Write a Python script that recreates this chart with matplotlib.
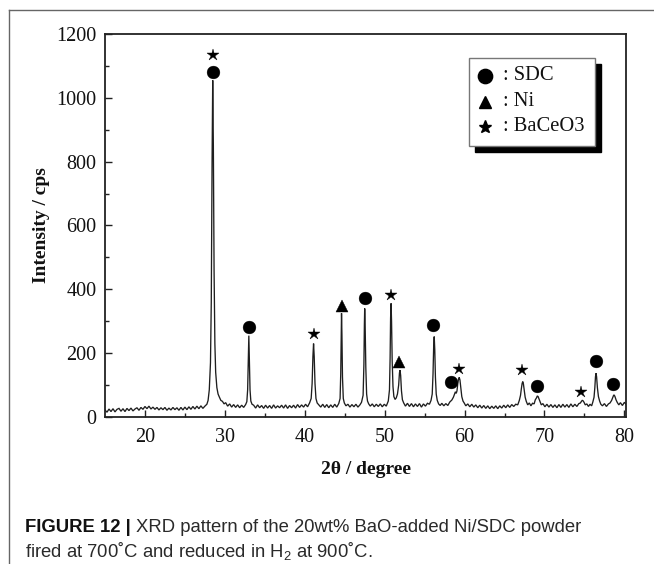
import matplotlib
matplotlib.use("Agg")
import matplotlib.pyplot as plt
from matplotlib.lines import Line2D
from matplotlib.patches import Rectangle

# ---------------- data ----------------
two_theta = [
    15.00, 15.25, 15.50, 15.75, 16.00, 16.25, 16.50, 16.75, 17.00, 17.25, 17.50, 17.75,
    18.00, 18.25, 18.50, 18.75, 19.00, 19.25, 19.50, 19.75, 20.00, 20.25, 20.50, 20.75,
    21.00, 21.25, 21.50, 21.75, 22.00, 22.25, 22.50, 22.75, 23.00, 23.25, 23.50, 23.75,
    24.00, 24.25, 24.50, 24.75, 25.00, 25.25, 25.50, 25.75, 26.00, 26.25, 26.50, 26.75,
    27.00, 27.25, 27.50, 27.75,
    27.90, 28.05, 28.20, 28.30, 28.40, 28.48, 28.56, 28.65, 28.75, 28.85, 29.00, 29.15,
    29.30, 29.50, 29.70, 29.90, 30.10, 30.35, 30.60, 30.85, 31.10, 31.35, 31.60, 31.85,
    32.10, 32.35, 32.60,
    32.75, 32.85, 32.93, 33.00, 33.07, 33.15, 33.25, 33.40,
    33.60, 33.85, 34.10, 34.35, 34.60, 34.85, 35.10, 35.35, 35.60, 35.85, 36.10, 36.35,
    36.60, 36.85, 37.10, 37.35, 37.60, 37.85, 38.10, 38.35, 38.60, 38.85, 39.10, 39.35,
    39.60, 39.85, 40.10, 40.35, 40.60,
    40.80, 40.92, 41.02, 41.10, 41.18, 41.28, 41.40, 41.55, 41.75, 42.00, 42.25, 42.50,
    42.75, 43.00, 43.25, 43.50, 43.75, 44.00, 44.25,
    44.42, 44.50, 44.56, 44.60, 44.65, 44.72, 44.82, 44.95, 45.15, 45.40, 45.65, 45.90,
    46.15, 46.40, 46.65, 46.90, 47.10,
    47.30, 47.40, 47.46, 47.50, 47.56, 47.64, 47.74, 47.85, 48.00, 48.20, 48.45, 48.70,
    48.95, 49.20, 49.45, 49.70, 49.95, 50.20, 50.45,
    50.60, 50.68, 50.74, 50.80, 50.86, 50.94, 51.04, 51.15, 51.30, 51.45, 51.60,
    51.75, 51.85, 51.92, 52.00, 52.10, 52.22, 52.38, 52.60, 52.85, 53.10, 53.35, 53.60,
    53.85, 54.10, 54.35, 54.60, 54.85, 55.10, 55.35, 55.60, 55.80,
    55.95, 56.05, 56.13, 56.20, 56.27, 56.35, 56.45, 56.58, 56.75, 56.95, 57.15, 57.40,
    57.65, 57.90, 58.15, 58.40, 58.60,
    58.75, 58.85, 58.95, 59.05, 59.15, 59.25, 59.33, 59.42, 59.52, 59.65, 59.80, 59.95,
    60.15, 60.40, 60.65, 60.90, 61.15, 61.40, 61.65, 61.90, 62.15, 62.40, 62.65, 62.90,
    63.15, 63.40, 63.65, 63.90, 64.15, 64.40, 64.65, 64.90, 65.15, 65.40, 65.65, 65.90,
    66.15, 66.40, 66.65, 66.85,
    67.00, 67.10, 67.20, 67.28, 67.36, 67.46, 67.58, 67.72, 67.90, 68.10, 68.30, 68.50,
    68.70, 68.85,
    69.00, 69.10, 69.20, 69.32, 69.45, 69.60, 69.80, 70.05, 70.30, 70.55, 70.80, 71.05,
    71.30, 71.55, 71.80, 72.05, 72.30, 72.55, 72.80, 73.05, 73.30, 73.55, 73.80, 74.05,
    74.30, 74.50,
    74.62, 74.72, 74.82, 74.95, 75.10, 75.30, 75.50, 75.70, 75.90, 76.05, 76.20,
    76.30, 76.38, 76.45, 76.52, 76.62, 76.75, 76.90, 77.05, 77.25, 77.50, 77.75, 78.00,
    78.20, 78.40,
    78.55, 78.65, 78.72, 78.82, 78.95, 79.10, 79.30, 79.50, 79.75, 80.00, 80.20,
]
intensity_cps = [
    22, 15, 25, 17, 26, 16, 24, 27, 18, 26, 17, 27,
    20, 28, 19, 25, 29, 21, 30, 24, 33, 26, 34, 25,
    31, 24, 30, 22, 29, 23, 30, 21, 28, 22, 30, 23,
    29, 21, 30, 22, 31, 23, 32, 24, 33, 25, 34, 26,
    35, 27, 34, 40,
    52, 85, 170, 360, 800, 1055, 850, 460, 230, 140, 92, 72,
    63, 52, 49, 41, 45, 34, 41, 31, 39, 30, 38, 29,
    37, 30, 39,
    48, 85, 175, 255, 170, 85, 50, 40,
    37, 28, 38, 29, 36, 27, 37, 28, 36, 27, 38, 28,
    35, 29, 37, 28, 38, 27, 36, 29, 37, 28, 39, 30,
    38, 31, 40, 32, 44,
    58, 105, 190, 230, 190, 105, 58, 44, 38, 31, 40, 30,
    39, 29, 38, 30, 40, 31, 42,
    58, 135, 260, 325, 260, 125, 58, 44, 35, 40, 31, 39,
    32, 40, 31, 38, 46,
    68, 165, 290, 340, 280, 155, 72, 50, 41, 34, 41, 32,
    40, 33, 41, 32, 40, 34, 50,
    85, 185, 310, 356, 300, 175, 95, 64, 55, 60, 72,
    100, 138, 147, 130, 82, 54, 44, 34, 43, 33, 42, 32,
    41, 33, 42, 31, 41, 34, 43, 40, 52,
    72, 135, 220, 252, 210, 125, 72, 52, 41, 36, 43, 35,
    42, 36, 47, 53, 62,
    72, 79, 74, 82, 105, 120, 124, 116, 92, 64, 50, 44,
    35, 41, 32, 40, 31, 38, 29, 37, 28, 36, 27, 35,
    26, 34, 27, 35, 26, 35, 28, 37, 29, 38, 30, 39,
    33, 40, 38, 52,
    68, 88, 105, 111, 104, 84, 62, 49, 38, 44, 35, 43,
    41, 54,
    60, 66, 64, 56, 48, 38, 42, 32, 40, 31, 39, 30,
    38, 29, 39, 30, 40, 31, 39, 30, 41, 32, 40, 33,
    42, 44,
    49, 52, 51, 46, 38, 41, 33, 40, 35, 47, 62,
    92, 126, 137, 126, 92, 64, 50, 40, 35, 42, 33, 41,
    44, 52,
    62, 68, 69, 64, 54, 46, 38, 45, 36, 46, 40,
]

# phase markers placed above the peaks (2theta, cps, phase)
marker_2theta = [28.5, 28.5, 33.0, 41.1, 44.6, 47.5, 50.75, 51.85, 56.1, 58.35, 59.3,
                 67.2, 69.0, 74.6, 76.45, 78.55]
marker_cps = [1082, 1134, 282, 260, 349, 372, 382, 173, 288, 111, 149,
              148, 98, 78, 174, 102]
marker_phase = ["SDC", "BaCeO3", "SDC", "BaCeO3", "Ni", "SDC", "BaCeO3", "Ni", "SDC",
                "SDC", "BaCeO3", "BaCeO3", "SDC", "BaCeO3", "SDC", "SDC"]

phases = ["SDC", "Ni", "BaCeO3"]
phase_symbols = {"SDC": ("o", 9.2), "Ni": ("^", 8.3), "BaCeO3": ("*", 8.6)}

x_ticks = [20, 30, 40, 50, 60, 70, 80]
y_ticks = [0, 200, 400, 600, 800, 1000, 1200]

# ---------------- figure ----------------
W, H = 654, 564
fig = plt.figure(figsize=(W / 100, H / 100), dpi=100)
fig.patch.set_facecolor("white")

def fx(px):
    return px / W

def fy(py):
    return 1 - py / H

ax_l, ax_r, ax_t, ax_b = 105, 626, 34, 417
ax = fig.add_axes([fx(ax_l), fy(ax_b), (ax_r - ax_l) / W, (ax_b - ax_t) / H])

serif = "Liberation Serif"
ax.plot(two_theta, intensity_cps, color="#1e1e1e", lw=0.95, solid_joinstyle="miter")

for xm, ym, ph in zip(marker_2theta, marker_cps, marker_phase):
    m, s = phase_symbols[ph]
    ax.plot([xm], [ym], marker=m, ms=s, color="black", mec="black", mew=0.3,
            linestyle="none", zorder=5)

ax.set_xlim(15, 80.2)
ax.set_ylim(0, 1200)
ax.set_xticks(x_ticks)
ax.set_yticks(y_ticks)
ax.set_xticks([25, 35, 45, 55, 65, 75], minor=True)
ax.set_yticks([100, 300, 500, 700, 900, 1100], minor=True)
ax.tick_params(which="both", direction="in", top=False, right=False, color="#222222")
ax.tick_params(which="major", length=5, width=1.0, labelsize=14.5)
ax.tick_params(which="minor", length=2.6, width=1.0)
ax.tick_params(axis="x", pad=8)
ax.tick_params(axis="y", pad=6)
for lab in ax.get_xticklabels() + ax.get_yticklabels():
    lab.set_fontfamily(serif)
    lab.set_color("#111111")
for sp in ax.spines.values():
    sp.set_linewidth(1.3)
    sp.set_color("#222222")

# axis labels
fig.text(fx(42), fy(225.5), "Intensity / cps", rotation=90, ha="center", va="center",
         fontsize=14, fontweight="bold", family=serif, color="#111111")
fig.text(fx(366), fy(469), "2θ / degree", ha="center", va="center",
         fontsize=14, fontweight="bold", family=serif, color="#111111")

# legend box with shadow
bx0, by0, bx1, by1 = 469, 58, 595, 146
fig.add_artist(Rectangle((fx(bx0 + 6), fy(by1 + 6)), (bx1 - bx0) / W, (by1 - by0) / H,
                         transform=fig.transFigure, facecolor="black", edgecolor="black",
                         zorder=10))
fig.add_artist(Rectangle((fx(bx0), fy(by1)), (bx1 - bx0) / W, (by1 - by0) / H,
                         transform=fig.transFigure, facecolor="white", edgecolor="#777777",
                         lw=1.0, zorder=11))
row_y = [76, 101.5, 126.5]
for ph, ry in zip(phases, row_y):
    m, s = phase_symbols[ph]
    fig.add_artist(Line2D([fx(485)], [fy(ry)], marker=m, ms=s * 1.12, color="black",
                          linestyle="none", transform=fig.transFigure, zorder=12))
    fig.text(fx(503), fy(ry), ": " + ph, ha="left", va="center", fontsize=14.8,
             family=serif, color="#111111", zorder=12)

# outer frame (top and left edges visible)
fig.add_artist(Line2D([fx(9), fx(9)], [fy(10), 0], color="#666666", lw=1.0,
                      transform=fig.transFigure))
fig.add_artist(Line2D([fx(9), 1], [fy(10), fy(10)], color="#666666", lw=1.0,
                      transform=fig.transFigure))

# caption
plt.rcParams["mathtext.fontset"] = "custom"
plt.rcParams["mathtext.rm"] = "Liberation Sans"
sans = "Liberation Sans"
cap_fs = 13.3
t1 = fig.text(fx(25), fy(532), "FIGURE 12 | ", ha="left", va="baseline",
              fontsize=cap_fs, fontweight="bold", family=sans, color="#111111")
fig.canvas.draw()
r = fig.canvas.get_renderer()
bb = t1.get_window_extent(r)
fig.text(bb.x1 / W, fy(532), "XRD pattern of the 20wt% BaO-added Ni/SDC powder",
         ha="left", va="baseline", fontsize=cap_fs, family=sans, color="#2a2a2a")
fig.text(fx(25), fy(557), "fired at 700˚C and reduced in H$_\\mathregular{2}$ at 900˚C.",
         ha="left", va="baseline", fontsize=cap_fs, family=sans, color="#2a2a2a")

fig.savefig("out.png", dpi=100, facecolor="white")
